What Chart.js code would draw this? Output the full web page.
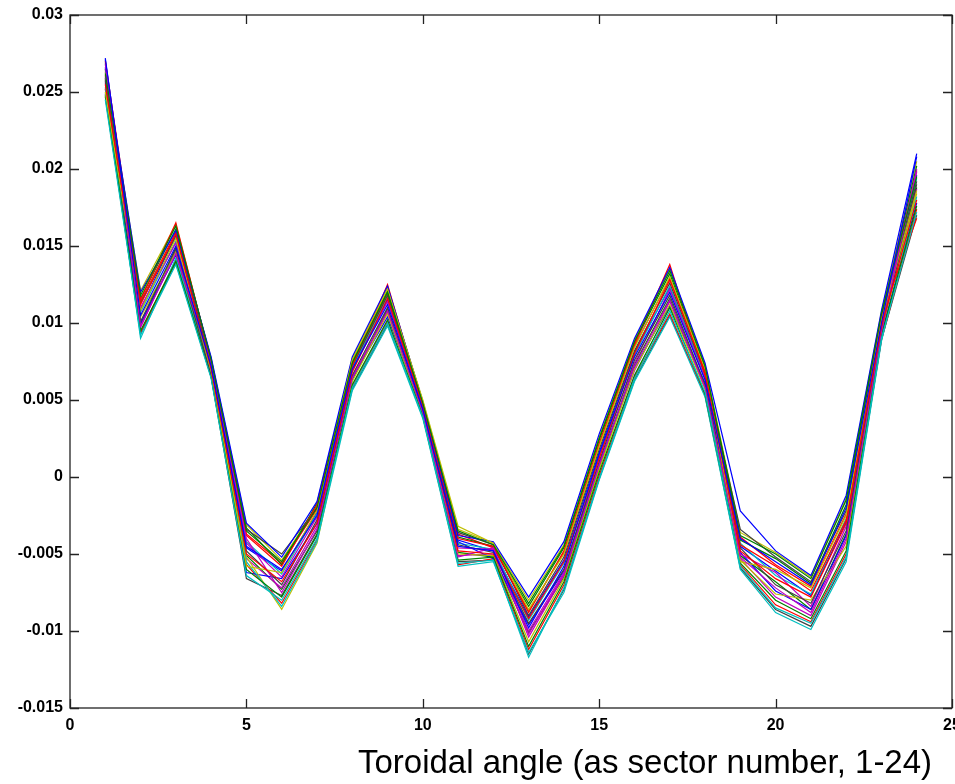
<!DOCTYPE html>
<html>
<head>
<meta charset="utf-8">
<script src="https://cdn.jsdelivr.net/npm/chart.js@4"></script>
<style>
  html, body { margin: 0; padding: 0; background: #fff; }
  canvas { display: block; }
</style>
</head>
<body>
<canvas id="sectorChart" width="955" height="784"></canvas>
<script>
// sector number on the x axis
const sectors = [1, 2, 3, 4, 5, 6, 7, 8, 9, 10, 11, 12, 13, 14, 15, 16, 17, 18, 19, 20, 21, 22, 23, 24];

// tick values
const xTicks = [0, 5, 10, 15, 20, 25];
const yTicks = [-0.015, -0.01, -0.005, 0, 0.005, 0.01, 0.015, 0.02, 0.025, 0.03];

// individual traces
const s1  = [0.0272, 0.0105, 0.0150, 0.0072, -0.0045, -0.0060, -0.0025, 0.0070, 0.0112, 0.0044, -0.0045, -0.0048, -0.0098, -0.0058, 0.0015, 0.0078, 0.0120, 0.0063, -0.0040, -0.0055, -0.0070, -0.0020, 0.0100, 0.0208];
const s2  = [0.0262, 0.0118, 0.0163, 0.0076, -0.0035, -0.0055, -0.0020, 0.0074, 0.0120, 0.0048, -0.0035, -0.0044, -0.0082, -0.0045, 0.0025, 0.0088, 0.0134, 0.0072, -0.0038, -0.0050, -0.0066, -0.0015, 0.0106, 0.0195];
const s3  = [0.0255, 0.0112, 0.0158, 0.0070, -0.0050, -0.0068, -0.0030, 0.0068, 0.0116, 0.0046, -0.0048, -0.0050, -0.0092, -0.0055, 0.0012, 0.0080, 0.0128, 0.0068, -0.0048, -0.0066, -0.0078, -0.0030, 0.0098, 0.0180];
const s4  = [0.0245, 0.0092, 0.0138, 0.0064, -0.0064, -0.0080, -0.0040, 0.0058, 0.0100, 0.0039, -0.0056, -0.0054, -0.0117, -0.0072, -0.0001, 0.0064, 0.0108, 0.0055, -0.0058, -0.0085, -0.0095, -0.0052, 0.0090, 0.0172];
const s5  = [0.0268, 0.0098, 0.0145, 0.0074, -0.0040, -0.0075, -0.0034, 0.0064, 0.0108, 0.0042, -0.0052, -0.0046, -0.0104, -0.0064, 0.0008, 0.0072, 0.0115, 0.0058, -0.0052, -0.0072, -0.0088, -0.0040, 0.0094, 0.0200];
const s6  = [0.0250, 0.0108, 0.0155, 0.0069, -0.0058, -0.0062, -0.0022, 0.0076, 0.0122, 0.0050, -0.0032, -0.0043, -0.0086, -0.0050, 0.0020, 0.0084, 0.0130, 0.0070, -0.0055, -0.0060, -0.0072, -0.0025, 0.0102, 0.0186];
const s7  = [0.0258, 0.0101, 0.0148, 0.0066, -0.0048, -0.0070, -0.0028, 0.0066, 0.0110, 0.0043, -0.0044, -0.0049, -0.0095, -0.0060, 0.0010, 0.0076, 0.0118, 0.0060, -0.0046, -0.0070, -0.0082, -0.0035, 0.0096, 0.0190];
const s8  = [0.0266, 0.0120, 0.0160, 0.0078, -0.0030, -0.0052, -0.0016, 0.0078, 0.0124, 0.0049, -0.0038, -0.0042, -0.0078, -0.0042, 0.0028, 0.0090, 0.0136, 0.0074, -0.0022, -0.0048, -0.0064, -0.0012, 0.0108, 0.0210];
const s9  = [0.0248, 0.0095, 0.0140, 0.0065, -0.0060, -0.0078, -0.0038, 0.0060, 0.0102, 0.0040, -0.0054, -0.0052, -0.0110, -0.0068, 0.0003, 0.0066, 0.0110, 0.0054, -0.0056, -0.0080, -0.0092, -0.0048, 0.0092, 0.0176];
const s10 = [0.0270, 0.0115, 0.0165, 0.0075, -0.0038, -0.0058, -0.0018, 0.0072, 0.0125, 0.0047, -0.0040, -0.0045, -0.0088, -0.0048, 0.0022, 0.0086, 0.0138, 0.0066, -0.0044, -0.0058, -0.0074, -0.0028, 0.0104, 0.0168];
const s11 = [0.0253, 0.0090, 0.0142, 0.0067, -0.0055, -0.0084, -0.0042, 0.0056, 0.0098, 0.0038, -0.0058, -0.0055, -0.0114, -0.0075, -0.0002, 0.0062, 0.0104, 0.0052, -0.0060, -0.0088, -0.0099, -0.0055, 0.0088, 0.0182];
const s12 = [0.0260, 0.0110, 0.0152, 0.0071, -0.0043, -0.0065, -0.0026, 0.0069, 0.0114, 0.0045, -0.0046, -0.0047, -0.0100, -0.0062, 0.0013, 0.0074, 0.0122, 0.0064, -0.0050, -0.0062, -0.0084, -0.0032, 0.0099, 0.0198];
const s13 = [0.0264, 0.0104, 0.0146, 0.0068, -0.0052, -0.0086, -0.0043, 0.0062, 0.0106, 0.0041, -0.0050, -0.0051, -0.0107, -0.0066, 0.0005, 0.0070, 0.0112, 0.0057, -0.0054, -0.0076, -0.0080, -0.0045, 0.0095, 0.0184];
const s14 = [0.0257, 0.0113, 0.0156, 0.0073, -0.0034, -0.0050, -0.0020, 0.0072, 0.0118, 0.0046, -0.0036, -0.0044, -0.0090, -0.0052, 0.0018, 0.0082, 0.0126, 0.0067, -0.0034, -0.0052, -0.0068, -0.0022, 0.0101, 0.0192];
const s15 = [0.0249, 0.0100, 0.0144, 0.0070, -0.0062, -0.0066, -0.0030, 0.0064, 0.0104, 0.0043, -0.0042, -0.0053, -0.0096, -0.0061, 0.0009, 0.0071, 0.0111, 0.0061, -0.0049, -0.0074, -0.0086, -0.0038, 0.0093, 0.0178];
const s16 = [0.0265, 0.0116, 0.0161, 0.0077, -0.0033, -0.0057, -0.0017, 0.0075, 0.0121, 0.0048, -0.0039, -0.0045, -0.0084, -0.0046, 0.0024, 0.0087, 0.0132, 0.0071, -0.0041, -0.0053, -0.0069, -0.0018, 0.0105, 0.0202];
const s17 = [0.0252, 0.0094, 0.0141, 0.0066, -0.0057, -0.0082, -0.0041, 0.0059, 0.0101, 0.0039, -0.0057, -0.0053, -0.0112, -0.0070, 0.0001, 0.0065, 0.0106, 0.0053, -0.0057, -0.0083, -0.0094, -0.0050, 0.0089, 0.0174];
const s18 = [0.0269, 0.0107, 0.0153, 0.0073, -0.0042, -0.0063, -0.0024, 0.0071, 0.0117, 0.0045, -0.0043, -0.0047, -0.0093, -0.0056, 0.0014, 0.0079, 0.0124, 0.0065, -0.0043, -0.0064, -0.0076, -0.0027, 0.0099, 0.0194];
const s19 = [0.0256, 0.0097, 0.0147, 0.0068, -0.0053, -0.0072, -0.0032, 0.0065, 0.0107, 0.0042, -0.0051, -0.0050, -0.0102, -0.0063, 0.0007, 0.0069, 0.0114, 0.0059, -0.0053, -0.0078, -0.0090, -0.0042, 0.0094, 0.0187];
const s20 = [0.0263, 0.0121, 0.0164, 0.0076, -0.0031, -0.0054, -0.0019, 0.0077, 0.0123, 0.0049, -0.0034, -0.0043, -0.0080, -0.0044, 0.0026, 0.0089, 0.0135, 0.0073, -0.0036, -0.0049, -0.0065, -0.0014, 0.0107, 0.0205];
const s21 = [0.0247, 0.0093, 0.0139, 0.0065, -0.0066, -0.0077, -0.0037, 0.0057, 0.0099, 0.0040, -0.0055, -0.0054, -0.0115, -0.0073, -0.0001, 0.0063, 0.0105, 0.0053, -0.0059, -0.0086, -0.0097, -0.0053, 0.0089, 0.0170];
const s22 = [0.0271, 0.0109, 0.0157, 0.0072, -0.0046, -0.0061, -0.0023, 0.0070, 0.0115, 0.0046, -0.0041, -0.0048, -0.0091, -0.0054, 0.0016, 0.0081, 0.0123, 0.0066, -0.0045, -0.0061, -0.0077, -0.0029, 0.0100, 0.0196];
const s23 = [0.0259, 0.0099, 0.0149, 0.0069, -0.0051, -0.0073, -0.0035, 0.0063, 0.0109, 0.0042, -0.0049, -0.0052, -0.0101, -0.0065, 0.0006, 0.0073, 0.0116, 0.0059, -0.0051, -0.0068, -0.0086, -0.0037, 0.0097, 0.0188];
const s24 = [0.0261, 0.0114, 0.0159, 0.0074, -0.0037, -0.0056, -0.0021, 0.0073, 0.0119, 0.0047, -0.0037, -0.0046, -0.0087, -0.0049, 0.0021, 0.0085, 0.0129, 0.0069, -0.0039, -0.0057, -0.0071, -0.0024, 0.0103, 0.0199];

const traces = [s1, s2, s3, s4, s5, s6, s7, s8, s9, s10, s11, s12, s13, s14,
                s15, s16, s17, s18, s19, s20, s21, s22, s23, s24];

// matlab-ish colour cycle
const colors = ['#0000ff', '#008000', '#ff0000', '#00bfbf', '#bf00bf', '#bfbf00', '#404040'];

const xTitle = 'Toroidal angle (as sector number, 1-24)';

const datasets = traces.map((vals, i) => ({
    data: vals.map((v, j) => ({ x: sectors[j], y: v })),
    borderColor: colors[i % colors.length],
    borderWidth: 1.2,
    pointRadius: 0,
    tension: 0,
    fill: false
}));

// box + inward tick marks on all four sides, and the x label
const frameTicks = {
    id: 'frameTicks',
    afterDraw(chart) {
        const ctx = chart.ctx;
        const a = chart.chartArea;
        const xs = chart.scales.x, ys = chart.scales.y;
        const len = 9;
        ctx.save();
        ctx.strokeStyle = '#222';
        ctx.lineWidth = 1.3;
        ctx.strokeRect(a.left, a.top, a.right - a.left, a.bottom - a.top);
        ctx.beginPath();
        xTicks.forEach(t => {
            const px = Math.round(xs.getPixelForValue(t)) + 0.5;
            ctx.moveTo(px, a.bottom); ctx.lineTo(px, a.bottom - len);
            ctx.moveTo(px, a.top); ctx.lineTo(px, a.top + len);
        });
        yTicks.forEach(t => {
            const py = Math.round(ys.getPixelForValue(t)) + 0.5;
            ctx.moveTo(a.left, py); ctx.lineTo(a.left + len, py);
            ctx.moveTo(a.right, py); ctx.lineTo(a.right - len, py);
        });
        ctx.stroke();
        ctx.fillStyle = '#000';
        ctx.font = '33px "Liberation Sans", Arial, sans-serif';
        ctx.textAlign = 'center';
        ctx.textBaseline = 'middle';
        ctx.fillText(xTitle, 645, 764);
        ctx.restore();
    }
};

const fmt = v => {
    const r = Math.round(v * 1000) / 1000;
    return r === 0 ? '0' : String(r);
};

const tickFont = { family: '"Liberation Sans", Arial, sans-serif', size: 16, weight: 'bold' };

const config = {
    type: 'line',
    data: { datasets: datasets },
    options: {
        responsive: false,
        animation: false,
        layout: { padding: { top: 15, right: 3, left: 0, bottom: 0 } },
        plugins: {
            legend: { display: false },
            tooltip: { enabled: false }
        },
        scales: {
            x: {
                type: 'linear',
                min: 0,
                max: 25,
                afterBuildTicks: s => { s.ticks = xTicks.map(v => ({ value: v })); },
                afterFit: s => { s.height = 76; s.paddingLeft = 0; s.paddingRight = 0; },
                grid: { display: false, drawTicks: false },
                border: { display: false },
                ticks: {
                    padding: 8,
                    color: '#000',
                    font: tickFont,
                    maxRotation: 0,
                    callback: v => String(v)
                }
            },
            y: {
                min: -0.015,
                max: 0.03,
                afterBuildTicks: s => { s.ticks = yTicks.map(v => ({ value: v })); },
                afterFit: s => { s.width = 70; s.paddingTop = 0; s.paddingBottom = 0; },
                grid: { display: false, drawTicks: false },
                border: { display: false },
                ticks: {
                    padding: 7,
                    color: '#000',
                    font: tickFont,
                    callback: fmt
                }
            }
        }
    },
    plugins: [frameTicks]
};

window.onload = () => {
    const ctx = document.getElementById('sectorChart').getContext('2d');
    new Chart(ctx, config);
};
</script>
</body>
</html>
